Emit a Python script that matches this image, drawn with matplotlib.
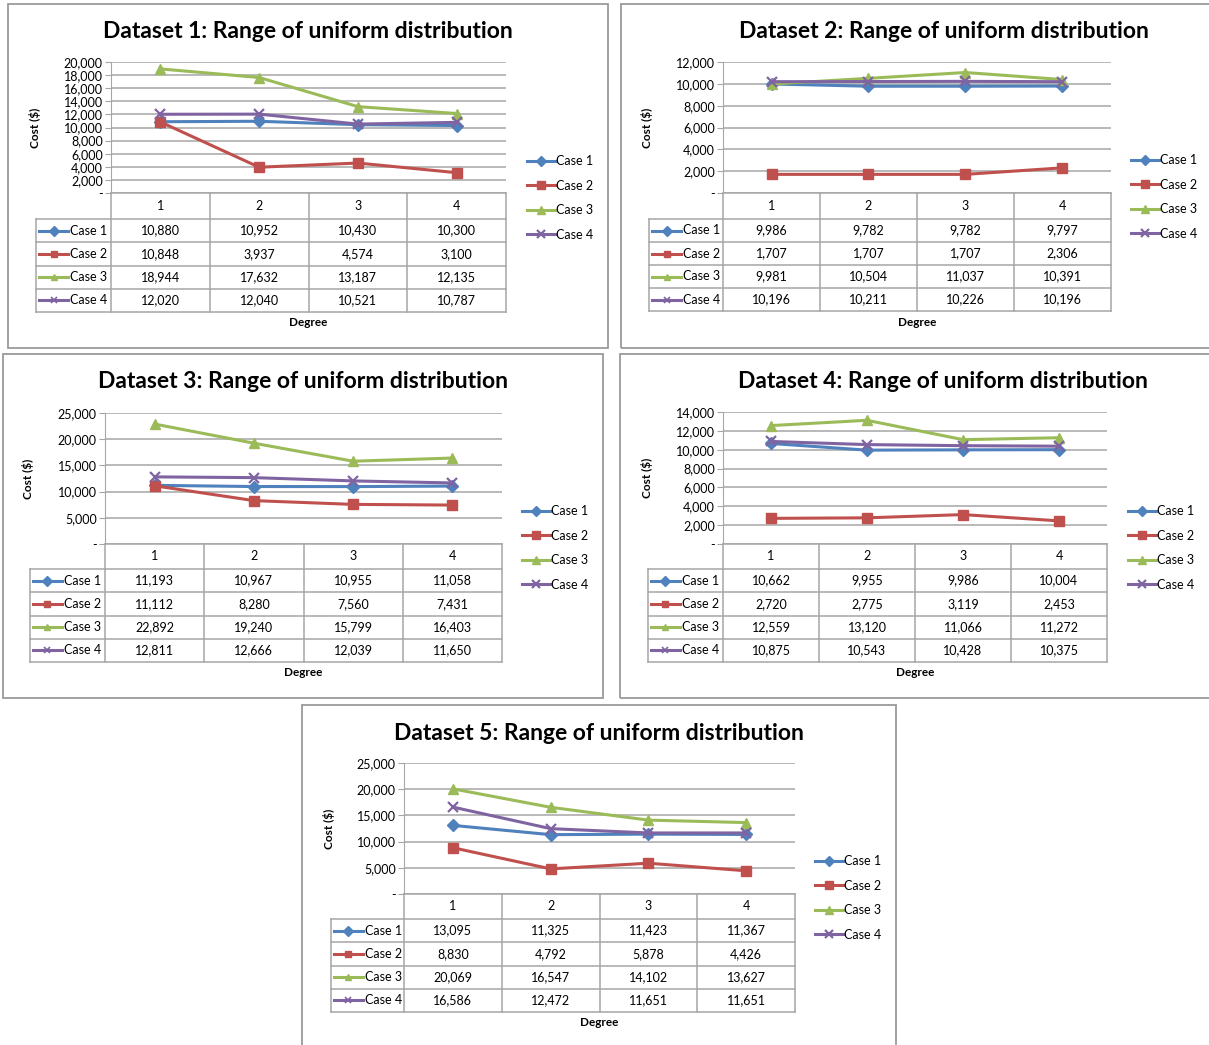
import matplotlib
matplotlib.use("Agg")
import matplotlib.pyplot as plt
from matplotlib.patches import Rectangle
from matplotlib.ticker import FuncFormatter

plt.rcParams["font.family"] = ["Lato", "DejaVu Sans"]

degrees = [1, 2, 3, 4]
cases = ["Case 1", "Case 2", "Case 3", "Case 4"]

ds1 = [[10880, 10952, 10430, 10300],
       [10848, 3937, 4574, 3100],
       [18944, 17632, 13187, 12135],
       [12020, 12040, 10521, 10787]]
ds2 = [[9986, 9782, 9782, 9797],
       [1707, 1707, 1707, 2306],
       [9981, 10504, 11037, 10391],
       [10196, 10211, 10226, 10196]]
ds3 = [[11193, 10967, 10955, 11058],
       [11112, 8280, 7560, 7431],
       [22892, 19240, 15799, 16403],
       [12811, 12666, 12039, 11650]]
ds4 = [[10662, 9955, 9986, 10004],
       [2720, 2775, 3119, 2453],
       [12559, 13120, 11066, 11272],
       [10875, 10543, 10428, 10375]]
ds5 = [[13095, 11325, 11423, 11367],
       [8830, 4792, 5878, 4426],
       [20069, 16547, 14102, 13627],
       [16586, 12472, 11651, 11651]]

y_max = [20000, 12000, 25000, 14000, 25000]
y_step = [2000, 2000, 5000, 2000, 5000]

colors = ["#4F81BD", "#C0504D", "#9BBB59", "#8064A2"]
markers = ["D", "s", "^", "x"]
msizes = [6, 7, 7.5, 7]

W, H = 1209, 1045
grid_c = "#A6A6A6"
frame_c = "#9A9A9A"

fig = plt.figure(figsize=(W / 100, H / 100), dpi=100)


def axes_px(l, t, r, b):
    return fig.add_axes([l / W, 1 - b / H, (r - l) / W, (b - t) / H])


def draw_panel(num, data, ymax, ystep, frame, plot, label_left, head_bot, tab_bot, ylab_x, leg_x, leg_y):
    fl, ft, fr, fb = frame
    fig.add_artist(Rectangle((fl / W, 1 - fb / H), (fr - fl) / W, (fb - ft) / H,
                             transform=fig.transFigure, fill=False, ec=frame_c, lw=1.3))
    pl, pt, pr, pb = plot

    # chart area
    ax = axes_px(pl, pt, pr, pb)
    xs = [d - 0.5 for d in degrees]
    handles = []
    for vals, c, m, ms in zip(data, colors, markers, msizes):
        ln, = ax.plot(xs, vals, color=c, lw=2.2, marker=m, ms=ms, mew=1.6 if m == "x" else 1,
                      mec=c, mfc=c, clip_on=False, zorder=3)
        handles.append(ln)
    ax.set_xlim(0, 4)
    ax.set_ylim(0, ymax)
    ax.set_yticks(range(0, ymax + 1, ystep))
    ax.yaxis.set_major_formatter(FuncFormatter(lambda v, p: "-" if v == 0 else f"{int(v):,}"))
    ax.set_xticks([])
    ax.grid(axis="y", color=grid_c, lw=1.1)
    ax.set_axisbelow(True)
    for s in ["top", "right", "bottom"]:
        ax.spines[s].set_visible(False)
    ax.spines["left"].set_color(grid_c)
    ax.tick_params(axis="y", length=4, color=grid_c, labelsize=9, pad=2)
    ax.patch.set_alpha(0)

    # data table below
    colw = (pr - pl) / 4
    w = (pl - label_left) / colw
    tx = axes_px(label_left, pb, pr, tab_bot)
    tx.set_xlim(-w, 4)
    tx.set_ylim(tab_bot - pb, 0)
    tx.axis("off")
    hh = head_bot - pb
    rh = (tab_bot - head_bot) / 4
    lk = dict(color="#A6A6A6", lw=1.1, clip_on=False)
    tx.plot([0, 4], [0, 0], **lk)
    for i in range(5):
        tx.plot([i, i], [0, tab_bot - pb], **lk)
    tx.plot([-w, -w], [hh, tab_bot - pb], **lk)
    for r in range(5):
        tx.plot([-w, 4], [hh + r * rh, hh + r * rh], **lk)
    for i, d in enumerate(degrees):
        tx.text(i + 0.5, hh / 2, str(d), ha="center", va="center", fontsize=9)
    kx0 = -w + 3 / colw
    kx1 = -w + 32 / colw
    for r, (vals, c, m, name) in enumerate(zip(data, colors, markers, cases)):
        yc = hh + (r + 0.5) * rh
        tx.plot([kx0, kx1], [yc, yc], color=c, lw=2.2, clip_on=False)
        tx.plot([(kx0 + kx1) / 2], [yc], color=c, marker=m, ms=5, mew=1.2 if m == "x" else 1,
                clip_on=False)
        tx.text(kx1 + 2 / colw, yc, name, ha="left", va="center", fontsize=9)
        for i, v in enumerate(vals):
            tx.text(i + 0.5, yc, f"{v:,}", ha="center", va="center", fontsize=9)

    # texts
    fig.text(((fl + fr) / 2) / W, 1 - (ft + 28) / H, f"Dataset {num}: Range of uniform distribution",
             ha="center", va="center", fontsize=16.5, fontweight="bold")
    fig.text(ylab_x / W, 1 - ((pt + pb) / 2) / H, "Cost ($)", rotation=90, ha="center", va="center",
             fontsize=8.5, fontweight="bold")
    fig.text(((pl + pr) / 2) / W, 1 - (tab_bot + 11) / H, "Degree", ha="center", va="center",
             fontsize=8.5, fontweight="bold")

    ax.legend(handles, cases, loc="center left", bbox_to_anchor=(leg_x / W, 1 - leg_y / H),
              bbox_transform=fig.transFigure, frameon=False, fontsize=9, handlelength=2.2,
              handletextpad=0.15, labelspacing=1.0, borderpad=0, borderaxespad=0, markerscale=0.8)


draw_panel(1, ds1, y_max[0], y_step[0], (8, 4, 608, 348), (111, 62, 506, 193), 36, 219, 312, 35, 527, 198)
draw_panel(2, ds2, y_max[1], y_step[1], (621, 4, 1266, 348), (723, 62, 1111, 193), 649, 219, 311, 647, 1131, 197)
draw_panel(3, ds3, y_max[2], y_step[2], (3, 354, 603, 698), (105, 413, 502, 544), 30, 569, 662, 28, 522, 548)
draw_panel(4, ds4, y_max[3], y_step[3], (620, 354, 1266, 698), (723, 412, 1107, 544), 648, 569, 662, 647, 1128, 548)
draw_panel(5, ds5, y_max[4], y_step[4], (302, 705, 896, 1060), (404, 763, 795, 894), 331, 919, 1012, 329, 815, 898)

fig.savefig("out.png", dpi=100)
